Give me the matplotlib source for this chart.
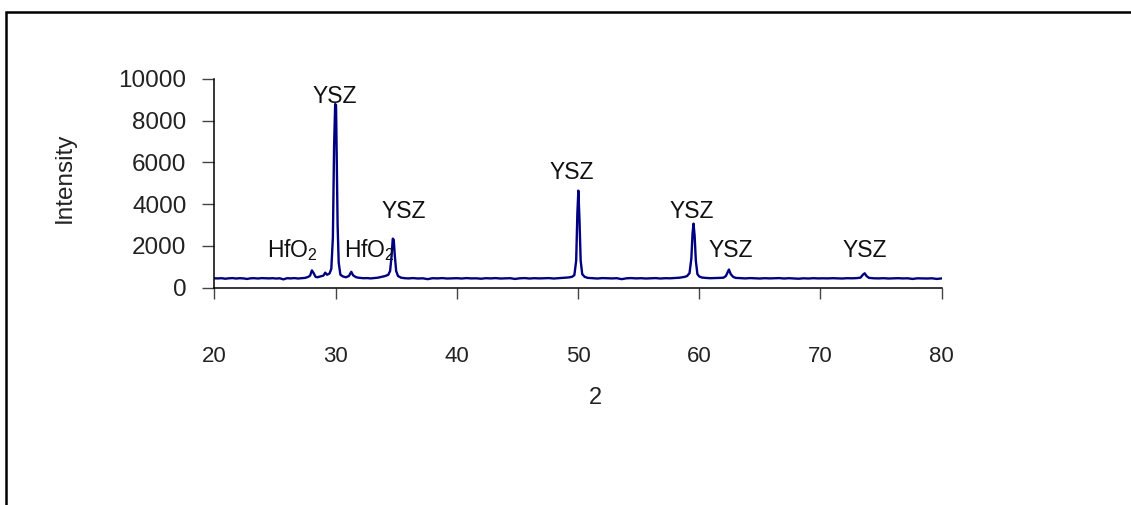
import matplotlib
matplotlib.use("Agg")
import matplotlib.pyplot as plt
from matplotlib.patches import Rectangle

plt.rcParams['font.family'] = ['Liberation Sans', 'DejaVu Sans']
plt.rcParams['mathtext.fontset'] = 'custom'
plt.rcParams['mathtext.rm'] = 'Liberation Sans'
plt.rcParams['mathtext.it'] = 'Liberation Sans'

# XRD scan (2-theta in degrees, counts)
two_theta = [
    20.0, 20.3, 20.6, 20.9, 21.2, 21.5, 21.8, 22.1, 22.4, 22.7,
    23.0, 23.3, 23.6, 23.9, 24.2, 24.5, 24.8, 25.1, 25.4, 25.7,
    26.0, 26.3, 26.6, 26.9, 27.2, 27.5, 27.75, 27.9, 28.05, 28.2,
    28.35, 28.5, 28.75, 29.0, 29.15, 29.3, 29.5, 29.65, 29.78, 29.88,
    29.97, 30.04, 30.1, 30.17, 30.26, 30.4, 30.6, 30.85, 31.1, 31.3,
    31.45, 31.7, 32.0, 32.3, 32.6, 32.9, 33.2, 33.5, 33.8, 34.1,
    34.35, 34.5, 34.62, 34.72, 34.8, 34.88, 35.0, 35.15, 35.4, 35.7,
    36.0, 36.4, 36.8, 37.2, 37.6, 38.0, 38.4, 38.8, 39.2, 39.6,
    40.0, 40.4, 40.8, 41.2, 41.6, 42.0, 42.4, 42.8, 43.2, 43.6,
    44.0, 44.4, 44.8, 45.2, 45.6, 46.0, 46.4, 46.8, 47.2, 47.6,
    48.0, 48.4, 48.8, 49.2, 49.5, 49.7, 49.85, 49.95, 50.03, 50.12,
    50.22, 50.35, 50.55, 50.8, 51.2, 51.6, 52.0, 52.4, 52.8, 53.2,
    53.6, 54.0, 54.4, 54.8, 55.2, 55.6, 56.0, 56.4, 56.8, 57.2,
    57.6, 58.0, 58.4, 58.8, 59.0, 59.2, 59.35, 59.45, 59.53, 59.62,
    59.72, 59.85, 60.0, 60.2, 60.5, 60.9, 61.3, 61.7, 62.0, 62.2,
    62.35, 62.45, 62.6, 62.8, 63.0, 63.4, 63.8, 64.2, 64.6, 65.0,
    65.4, 65.8, 66.2, 66.6, 67.0, 67.4, 67.8, 68.2, 68.6, 69.0,
    69.4, 69.8, 70.2, 70.6, 71.0, 71.4, 71.8, 72.2, 72.6, 73.0,
    73.3, 73.5, 73.65, 73.8, 74.0, 74.4, 74.8, 75.2, 75.6, 76.0,
    76.4, 76.8, 77.2, 77.6, 78.0, 78.4, 78.8, 79.2, 79.6, 80.0,
]
intensity = [
    450, 445, 455, 430, 450, 460, 440, 455, 445, 420,
    450, 455, 440, 460, 450, 445, 455, 440, 450, 400,
    455, 445, 460, 440, 455, 470, 520, 580, 830, 690,
    520, 500, 540, 580, 720, 620, 680, 900, 2400, 6800,
    8800, 8750, 6200, 3000, 1200, 620, 540, 500, 560, 760,
    590, 500, 470, 455, 460, 445, 460, 480, 520, 560,
    620, 800, 1500, 2350, 2300, 1600, 800, 560, 480, 455,
    445, 460, 440, 450, 410, 455, 445, 460, 440, 450,
    455, 440, 460, 445, 450, 430, 455, 445, 460, 440,
    450, 455, 420, 450, 460, 440, 455, 445, 450, 460,
    440, 455, 470, 490, 520, 600, 1300, 3600, 4650, 3300,
    1300, 650, 520, 470, 455, 440, 460, 450, 445, 455,
    410, 450, 460, 445, 455, 440, 450, 460, 440, 455,
    450, 465, 480, 520, 560, 700, 1400, 2600, 3070, 2500,
    1300, 650, 540, 490, 470, 455, 460, 470, 480, 560,
    750, 870, 650, 520, 470, 455, 445, 460, 450, 440,
    455, 445, 450, 460, 440, 455, 445, 430, 450, 440,
    455, 445, 450, 445, 455, 450, 440, 455, 450, 460,
    480, 620, 690, 560, 470, 450, 445, 455, 440, 450,
    455, 445, 450, 420, 450, 445, 440, 450, 420, 445,
]

# phase labels (text, x, baseline y, alignment)
phase_text = ["YSZ", r"HfO$_2$", r"HfO$_2$", "YSZ", "YSZ", "YSZ", "YSZ", "YSZ"]
phase_x = [29.9, 24.37, 30.72, 35.66, 49.45, 59.4, 62.58, 73.67]
phase_y = [8836, 1457, 1457, 3325, 5194, 3325, 1485, 1485]
phase_ha = ["center", "left", "left", "center", "center", "center", "center", "center"]

x_ticks = [20, 30, 40, 50, 60, 70, 80]
y_ticks = [0, 2000, 4000, 6000, 8000, 10000]

fig = plt.figure(figsize=(11.31, 5.05), dpi=100)
ax = fig.add_axes([0.1895, 0.4303, 0.6431, 0.4133])

ax.plot(two_theta, intensity, color='#000080', lw=1.7)

for t, x, y, ha in zip(phase_text, phase_x, phase_y, phase_ha):
    ax.text(x, y, t, ha=ha, va='baseline', fontsize=16.5, color='#111111')

ax.set_xlim(20, 80)
ax.set_ylim(0, 10000)
ax.set_xticks(x_ticks)
ax.set_yticks(y_ticks)
ax.spines['top'].set_visible(False)
ax.spines['right'].set_visible(False)
for s in ['left', 'bottom']:
    ax.spines[s].set_linewidth(1.1)
ax.tick_params(axis='x', direction='out', length=8, width=1, pad=34,
               labelsize=16, labelcolor='#222222', color='#444444')
ax.tick_params(axis='y', direction='out', length=8.6, width=1, pad=11.5,
               labelsize=17.5, labelcolor='#222222', color='#444444')

# axis titles placed in figure pixels
fig.text(595 / 1131, 1 - 398 / 505, "2", ha='center', va='center',
         fontsize=17, color='#222222')
fig.text(65 / 1131, 1 - 177.5 / 505, "Intensity", ha='center', va='center',
         rotation=90, fontsize=17.5, color='#222222')

# frame around the figure, open to the right and bottom
fig.add_artist(Rectangle((6 / 1131, -0.05), 1.1, 1.05 - 12 / 505,
                         transform=fig.transFigure, fill=False,
                         ec='black', lw=1.8))

fig.savefig("out.png", dpi=100)
